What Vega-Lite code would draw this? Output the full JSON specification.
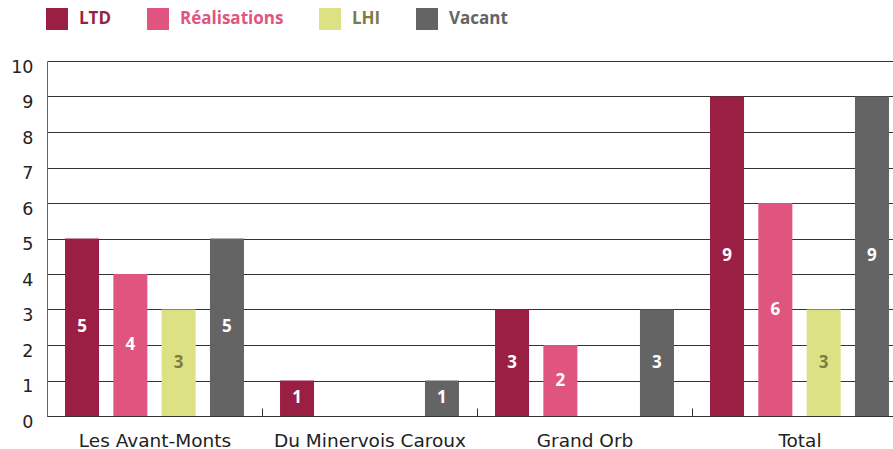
{
  "$schema": "https://vega.github.io/schema/vega-lite/v6.json",
  "width": 846,
  "height": 355,
  "autosize": {"type": "none"},
  "padding": {"left": 47, "top": 61, "right": 0, "bottom": 33},
  "background": "white",
  "config": {
    "view": {"stroke": null},
    "font": "DejaVu Sans",
    "axis": {"labelFont": "DejaVu Sans", "labelColor": "#222222", "labelFontSize": 17}
  },
  "data": {
    "values": [
      {"group": "Les Avant-Monts", "series": "LTD", "value": 5},
      {"group": "Les Avant-Monts", "series": "Réalisations", "value": 4},
      {"group": "Les Avant-Monts", "series": "LHI", "value": 3},
      {"group": "Les Avant-Monts", "series": "Vacant", "value": 5},
      {"group": "Du Minervois Caroux", "series": "LTD", "value": 1},
      {"group": "Du Minervois Caroux", "series": "Réalisations", "value": 0},
      {"group": "Du Minervois Caroux", "series": "LHI", "value": 0},
      {"group": "Du Minervois Caroux", "series": "Vacant", "value": 1},
      {"group": "Grand Orb", "series": "LTD", "value": 3},
      {"group": "Grand Orb", "series": "Réalisations", "value": 2},
      {"group": "Grand Orb", "series": "LHI", "value": null},
      {"group": "Grand Orb", "series": "Vacant", "value": 3},
      {"group": "Total", "series": "LTD", "value": 9},
      {"group": "Total", "series": "Réalisations", "value": 6},
      {"group": "Total", "series": "LHI", "value": 3},
      {"group": "Total", "series": "Vacant", "value": 9}
    ]
  },
  "resolve": {"axis": {"y": "independent"}},
  "encoding": {
    "x": {
      "field": "group", "type": "nominal", "sort": null,
      "scale": {"range": [0, 860], "paddingInner": 0, "paddingOuter": 0},
      "axis": {
        "title": null, "labelAngle": 0, "domainColor": "#333333", "domainWidth": 1.2,
        "tickBand": "extent", "tickSize": -8, "tickColor": "#333333",
        "labelPadding": 32, "labelBaseline": "middle", "labelFontSize": 18.5, "labelLimit": 400
      }
    },
    "xOffset": {
      "field": "series", "type": "nominal", "sort": ["LTD", "Réalisations", "LHI", "Vacant"],
      "scale": {"paddingInner": 0.296, "paddingOuter": 0.373}
    }
  },
  "layer": [
    {
      "mark": {"type": "bar"},
      "encoding": {
        "y": {
          "field": "value", "type": "quantitative",
          "scale": {"domain": [0, 10], "nice": false},
          "axis": {
            "title": null, "values": [0,1,2,3,4,5,6,7,8,9,10],
            "labelOverlap": false, "labelFlush": false, "labelFontSize": 17.5,
            "grid": true, "gridColor": "#333333", "gridWidth": 1, "gridOpacity": 1,
            "domainColor": "#666666", "ticks": false, "labelPadding": 14, "labelOffset": 6
          }
        },
        "color": {
          "field": "series", "type": "nominal",
          "sort": ["LTD", "Réalisations", "LHI", "Vacant"],
          "scale": {"domain": ["LTD", "Réalisations", "LHI", "Vacant"], "range": ["#9b1f45", "#e05580", "#dce283", "#646464"]},
          "legend": {
            "title": null, "orient": "none", "direction": "horizontal",
            "legendX": -1, "legendY": -53,
            "symbolType": "square", "symbolSize": 484, "symbolStrokeWidth": 0, "symbolOpacity": 1,
            "labelFontSize": 17, "labelFontWeight": "bold", "labelOffset": 11, "labelFont": "Open Sans",
            "columnPadding": 35,
            "encode": {
              "labels": {"update": {"fill": {"signal": "datum.value === 'LHI' ? '#7c7c45' : scale('color', datum.value)"}}}
            }
          }
        }
      }
    },
    {
      "transform": [
        {"filter": "datum.value > 0"},
        {"calculate": "datum.value / 2", "as": "mid"}
      ],
      "mark": {"type": "text", "fontSize": 17, "fontWeight": "bold", "baseline": "middle", "font": "Open Sans"},
      "encoding": {
        "y": {"field": "mid", "type": "quantitative", "axis": null},
        "text": {"field": "value", "type": "quantitative"},
        "color": {
          "condition": {"test": "datum.series === 'LHI'", "value": "#7c7c45"},
          "value": "white"
        }
      }
    }
  ]
}
